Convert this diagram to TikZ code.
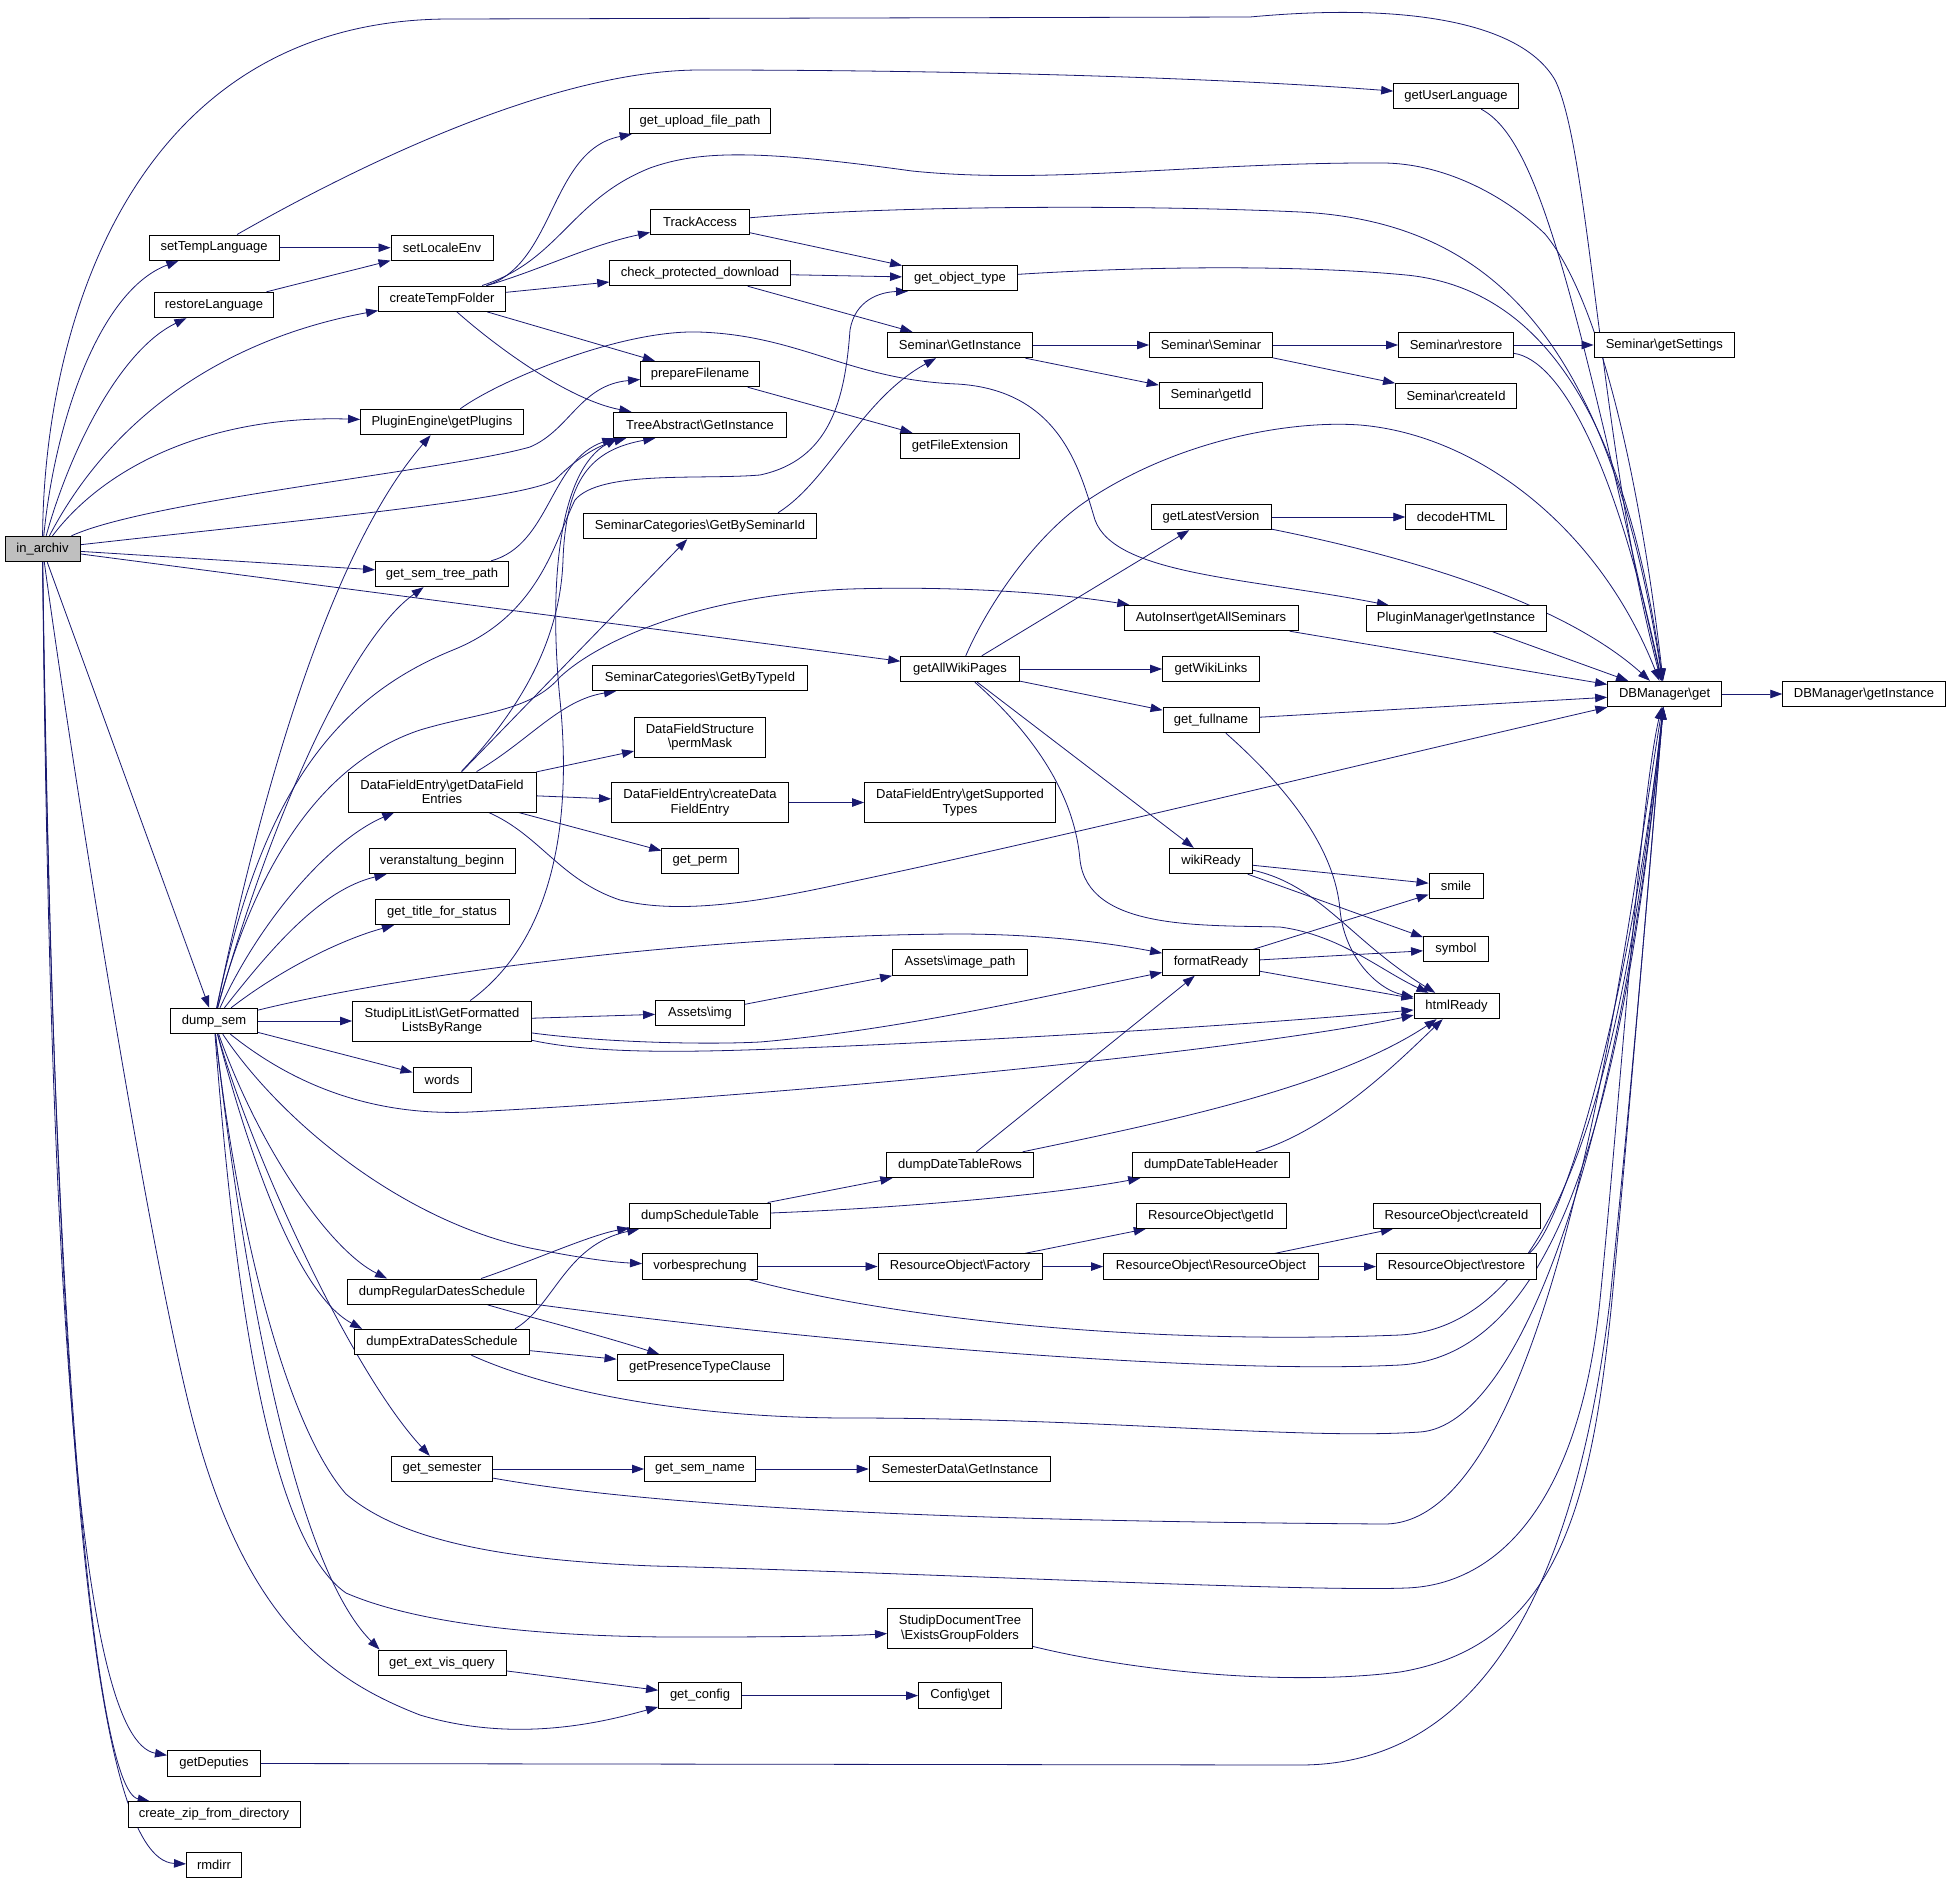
\documentclass[tikz,border=0pt]{standalone}
\usepackage{fontspec}
\newfontfamily\dfont{Liberation Sans}
\usetikzlibrary{arrows.meta}
\pgfdeclarelayer{bg}
\pgfdeclarelayer{paper}
\pgfsetlayers{paper,bg,main}
\definecolor{edgecol}{HTML}{191970}
\definecolor{rootfill}{HTML}{BFBFBF}
\begin{document}
\begin{tikzpicture}[x=1pt,y=-1pt,
 box/.style={draw=black,fill=white,line width=0.9pt,inner sep=0pt,minimum height=25.5pt,align=center,font={\dfont\fontsize{13}{14.5}\selectfont}},
 tall/.style={minimum height=40pt},
 e/.style={draw=edgecol,line width=0.8pt,-{Triangle[length=12pt,width=8.5pt]}}]
\begin{pgfonlayer}{paper}
\useasboundingbox[fill=white] (0,0) rectangle (1951,1884);
\end{pgfonlayer}
% rank 0/1
\node[box,minimum width=75pt,fill=rootfill] (inarchiv) at (42.5,549) {in\_archiv};
\node[box,minimum width=130pt] (settemp) at (214,247.7) {setTempLanguage};
\node[box,minimum width=119pt] (restore) at (214,305) {restoreLanguage};
\node[box,minimum width=87pt] (dumpsem) at (214,1021) {dump\_sem};
\node[box,minimum width=93pt] (getdep) at (214,1763.5) {getDeputies};
\node[box,minimum width=172pt] (zip) at (214,1814.4) {create\_zip\_from\_directory};
\node[box,minimum width=55pt] (rmdirr) at (214,1865) {rmdirr};
% rank 2
\node[box,minimum width=102pt] (setlocale) at (442,247.7) {setLocaleEnv};
\node[box,minimum width=127pt] (createtemp) at (442,298.7) {createTempFolder};
\node[box,minimum width=163pt] (plugins) at (442,422) {PluginEngine\textbackslash getPlugins};
\node[box,minimum width=133pt] (semtree) at (442,574) {get\_sem\_tree\_path};
\node[box,tall,minimum width=188pt] (dfe) at (442,792) {DataFieldEntry\textbackslash getDataField\\Entries};
\node[box,minimum width=146pt] (vbeginn) at (442,861) {veranstaltung\_beginn};
\node[box,minimum width=134pt] (title) at (442,912) {get\_title\_for\_status};
\node[box,tall,minimum width=179pt] (litlist) at (442,1021) {StudipLitList\textbackslash GetFormatted\\ListsByRange};
\node[box,minimum width=58pt] (words) at (442,1080) {words};
\node[box,minimum width=189pt] (regular) at (442,1291.7) {dumpRegularDatesSchedule};
\node[box,minimum width=175pt] (extra) at (442,1342) {dumpExtraDatesSchedule};
\node[box,minimum width=101.5pt] (semester) at (442,1469) {get\_semester};
\node[box,minimum width=128pt] (extvis) at (442,1662.7) {get\_ext\_vis\_query};
% rank 3
\node[box,minimum width=141.5pt] (upload) at (700,121) {get\_upload\_file\_path};
\node[box,minimum width=99pt] (track) at (700,222) {TrackAccess};
\node[box,minimum width=180.6pt] (checkprot) at (700,273) {check\_protected\_download};
\node[box,minimum width=119pt] (prepare) at (700,374) {prepareFilename};
\node[box,minimum width=172.6pt] (tree) at (700,425) {TreeAbstract\textbackslash GetInstance};
\node[box,minimum width=233pt] (catsem) at (700,526) {SeminarCategories\textbackslash GetBySeminarId};
\node[box,minimum width=215pt] (cattype) at (700,678) {SeminarCategories\textbackslash GetByTypeId};
\node[box,tall,minimum width=131pt] (permmask) at (700,737) {DataFieldStructure\\\textbackslash permMask};
\node[box,tall,minimum width=177pt] (createdfe) at (700,802.5) {DataFieldEntry\textbackslash createData\\FieldEntry};
\node[box,minimum width=76.5pt] (perm) at (700,861) {get\_perm};
\node[box,minimum width=89pt] (img) at (700,1013) {Assets\textbackslash img};
\node[box,minimum width=140.5pt] (schedule) at (700,1215.7) {dumpScheduleTable};
\node[box,minimum width=115pt] (vorb) at (700,1266.5) {vorbesprechung};
\node[box,minimum width=166pt] (presence) at (700,1367.4) {getPresenceTypeClause};
\node[box,minimum width=111pt] (semname) at (700,1469) {get\_sem\_name};
\node[box,minimum width=83pt] (config) at (700,1695.6) {get\_config};
% rank 4
\node[box,minimum width=115pt] (objtype) at (960,278) {get\_object\_type};
\node[box,minimum width=145.5pt] (seminst) at (960,345) {Seminar\textbackslash GetInstance};
\node[box,minimum width=118.6pt] (fileext) at (960,446) {getFileExtension};
\node[box,minimum width=118.6pt] (wiki) at (960,669) {getAllWikiPages};
\node[box,tall,minimum width=191pt] (supported) at (960,802.5) {DataFieldEntry\textbackslash getSupported\\Types};
\node[box,minimum width=135pt] (imgpath) at (960,962.6) {Assets\textbackslash image\_path};
\node[box,minimum width=147.4pt] (rows) at (960,1165) {dumpDateTableRows};
\node[box,minimum width=164pt] (factory) at (960,1266.5) {ResourceObject\textbackslash Factory};
\node[box,minimum width=181.7pt] (semdata) at (960,1469) {SemesterData\textbackslash GetInstance};
\node[box,tall,minimum width=145pt] (doctree) at (960,1628.7) {StudipDocumentTree\\\textbackslash ExistsGroupFolders};
\node[box,minimum width=83pt] (cfgget) at (960,1695.6) {Config\textbackslash get};
% rank 5
\node[box,minimum width=123pt] (seminar) at (1211,345) {Seminar\textbackslash Seminar};
\node[box,minimum width=103.5pt] (semid) at (1211,395.6) {Seminar\textbackslash getId};
\node[box,minimum width=120pt] (latest) at (1211,517) {getLatestVersion};
\node[box,minimum width=174pt] (autoins) at (1211,618) {AutoInsert\textbackslash getAllSeminars};
\node[box,minimum width=97pt] (wikilinks) at (1211,669) {getWikiLinks};
\node[box,minimum width=96pt] (fullname) at (1211,720) {get\_fullname};
\node[box,minimum width=83pt] (wikiready) at (1211,861) {wikiReady};
\node[box,minimum width=97pt] (format) at (1211,962.6) {formatReady};
\node[box,minimum width=156.7pt] (header) at (1211,1165) {dumpDateTableHeader};
\node[box,minimum width=150pt] (resid) at (1211,1215.7) {ResourceObject\textbackslash getId};
\node[box,minimum width=215pt] (resobj) at (1211,1266.6) {ResourceObject\textbackslash ResourceObject};
% rank 6
\node[box,minimum width=124.7pt] (userlang) at (1456,96) {getUserLanguage};
\node[box,minimum width=115pt] (semrestore) at (1456,345) {Seminar\textbackslash restore};
\node[box,minimum width=121pt] (semcreate) at (1456,395.8) {Seminar\textbackslash createId};
\node[box,minimum width=100.5pt] (decode) at (1456,517) {decodeHTML};
\node[box,minimum width=180pt] (pluginmgr) at (1456,618.5) {PluginManager\textbackslash getInstance};
\node[box,minimum width=54pt] (smile) at (1456,886) {smile};
\node[box,minimum width=65pt] (symbol) at (1456,949) {symbol};
\node[box,minimum width=85pt] (html) at (1456.5,1006) {htmlReady};
\node[box,minimum width=167pt] (rescreate) at (1456.5,1215.7) {ResourceObject\textbackslash createId};
\node[box,minimum width=160pt] (resrestore) at (1456.5,1266.6) {ResourceObject\textbackslash restore};
% rank 7/8
\node[box,minimum width=140.6pt] (settings) at (1664.3,345) {Seminar\textbackslash getSettings};
\node[box,minimum width=114pt] (dbget) at (1664.6,694) {DBManager\textbackslash get};
\node[box,minimum width=162.6pt] (dbinst) at (1864,694) {DBManager\textbackslash getInstance};

\begin{pgfonlayer}{bg}
% in_archiv
\draw[e] (inarchiv) .. controls (44,330) and (130,19) .. (450,19) -- (1250,17) .. controls (1400,3) and (1520,20) .. (1555,80) .. controls (1590,150) and (1600,450) .. (dbget);
\draw[e] (inarchiv) .. controls (55,420) and (100,290) .. (settemp);
\draw[e] (inarchiv) .. controls (70,450) and (120,350) .. (restore);
\draw[e] (inarchiv) .. controls (110,420) and (220,340) .. (createtemp);
\draw[e] (inarchiv) .. controls (110,460) and (220,415) .. (plugins);
\draw[e] (inarchiv) .. controls (150,500) and (450,470) .. (530,447) .. controls (570,430) and (580,385) .. (prepare);
\draw[e] (inarchiv) .. controls (300,520) and (520,500) .. (555,480) .. controls (580,455) and (600,445) .. ([xshift=13pt]tree.south west);
\draw[e] (inarchiv) -- (semtree);
\draw[e] (inarchiv) -- (wiki);
\draw[e] (inarchiv) -- (dumpsem);
\draw[e] (inarchiv) .. controls (70,750) and (140,1200) .. (187,1397) .. controls (240,1620) and (330,1680) .. (420,1715) .. controls (520,1745) and (610,1720) .. (config);
\draw[e] (inarchiv) .. controls (50,1300) and (80,1740) .. (getdep);
\draw[e] (inarchiv) .. controls (52,1350) and (95,1790) .. (zip);
\draw[e] (inarchiv) .. controls (55,1400) and (90,1860) .. (rmdirr);
% setTempLanguage etc.
\draw[e] (settemp) -- (setlocale);
\draw[e] (settemp) .. controls (350,170) and (550,70) .. (700,70) .. controls (1000,70) and (1250,80) .. (userlang);
\draw[e] (restore) -- (setlocale);
% createTempFolder
\draw[e] (createtemp) .. controls (555,265) and (550,150) .. (upload);
\draw[e] (createtemp) .. controls (560,260) and (570,200) .. (650,168) .. controls (700,150) and (760,150) .. (912,171) .. controls (1050,185) and (1200,162) .. (1384,163) .. controls (1450,164) and (1510,200) .. (1545,234) .. controls (1600,300) and (1640,480) .. (dbget);
\draw[e] (createtemp) .. controls (540,270) and (590,245) .. (track);
\draw[e] (createtemp) -- (checkprot);
\draw[e] (createtemp) -- (prepare);
\draw[e] (createtemp) .. controls (500,350) and (570,400) .. (tree);
% rank 3 top
\draw[e] (track) -- (objtype);
\draw[e] (track) .. controls (900,205) and (1150,205) .. (1300,212) .. controls (1500,222) and (1610,350) .. (dbget);
\draw[e] (checkprot) -- (objtype);
\draw[e] (checkprot) -- (seminst);
\draw[e] (objtype) .. controls (1150,266) and (1300,265) .. (1406,275) .. controls (1560,290) and (1630,450) .. (dbget);
\draw[e] (seminst) -- (seminar);
\draw[e] (seminst) -- (semid);
\draw[e] (seminar) -- (semrestore);
\draw[e] (seminar) -- (semcreate);
\draw[e] (semrestore) -- (settings);
\draw[e] (semrestore) .. controls (1560,360) and (1615,460) .. (dbget);
\draw[e] (userlang) .. controls (1540,140) and (1575,300) .. (dbget);
\draw[e] (prepare) -- (fileext);
\draw[e] (plugins) .. controls (500,380) and (620,330) .. (698,332) .. controls (800,335) and (850,380) .. (957,384) .. controls (1060,390) and (1080,470) .. (1095,520) .. controls (1115,575) and (1250,578) .. (pluginmgr);
\draw[e] (pluginmgr) -- (dbget);
\draw[e] (semtree) .. controls (550,545) and (550,460) .. ([xshift=1pt]tree.south west);
\draw[e] ([xshift=78pt]catsem.north) .. controls (830,480) and (860,400) .. (seminst);
% dump_sem
\draw[e] (dumpsem) .. controls (270,750) and (340,540) .. (plugins);
\draw[e] (dumpsem) .. controls (270,820) and (350,640) .. (semtree);
\draw[e] (dumpsem) .. controls (260,800) and (330,700) .. (453,650) .. controls (540,615) and (555,540) .. (575,500) .. controls (600,470) and (700,480) .. (760,475) .. controls (830,460) and (845,400) .. (850,330) .. controls (855,300) and (880,292) .. ([xshift=6pt]objtype.south west);
\draw[e] (dumpsem) .. controls (260,850) and (330,760) .. (420,730) .. controls (480,712) and (530,712) .. (560,677) .. controls (600,640) and (700,595) .. (850,589) .. controls (950,586) and (1050,592) .. (autoins);
\draw[e] (dumpsem) .. controls (260,920) and (330,840) .. (dfe);
\draw[e] (dumpsem) .. controls (270,950) and (320,890) .. (vbeginn);
\draw[e] (dumpsem) .. controls (280,970) and (340,940) .. (title);
\draw[e] (dumpsem) .. controls (400,975) and (700,935) .. (957,934) .. controls (1050,934) and (1120,945) .. (format);
\draw[e] (dumpsem) -- (litlist);
\draw[e] (dumpsem) -- (words);
\draw[e] (dumpsem) .. controls (300,1090) and (380,1116) .. (470,1112) .. controls (800,1095) and (1250,1050) .. (html);
\draw[e] (dumpsem) .. controls (280,1120) and (400,1220) .. (530,1248) .. controls (580,1258) and (610,1262) .. (vorb);
\draw[e] (dumpsem) .. controls (260,1150) and (330,1250) .. ([xshift=40pt]regular.north west);
\draw[e] (dumpsem) .. controls (240,1120) and (290,1290) .. ([xshift=8pt]extra.north west);
\draw[e] (dumpsem) .. controls (250,1150) and (350,1370) .. (semester);
\draw[e] (dumpsem) .. controls (240,1250) and (290,1430) .. (346,1494) .. controls (400,1540) and (500,1560) .. (654,1566) .. controls (900,1572) and (1300,1592) .. (1406,1588) .. controls (1500,1585) and (1580,1500) .. (1600,1300) .. controls (1620,1100) and (1640,800) .. (dbget);
\draw[e] (dumpsem) .. controls (235,1300) and (270,1540) .. (346,1593) .. controls (420,1625) and (550,1638) .. (700,1637) .. controls (780,1637) and (850,1636) .. (doctree);
\draw[e] (dumpsem) .. controls (240,1250) and (290,1560) .. ([xshift=2pt]extvis.north west);
% StudipLitList
\draw[e] (litlist) .. controls (540,950) and (575,850) .. (560,700) .. controls (548,580) and (560,470) .. ([xshift=4pt]tree.south west);
\draw[e] (litlist) -- (img);
\draw[e] (litlist) .. controls (600,1042) and (700,1045) .. (760,1042) .. controls (900,1030) and (1050,995) .. (format);
\draw[e] (litlist) .. controls (600,1055) and (700,1052) .. (800,1048) .. controls (1000,1040) and (1250,1025) .. (html);
% DataFieldEntry
\draw[e] (dfe) .. controls (510,720) and (560,650) .. (563,560) .. controls (566,480) and (590,450) .. ([xshift=42pt]tree.south west);
\draw[e] (dfe) -- (catsem);
\draw[e] (dfe) .. controls (530,740) and (560,700) .. (cattype);
\draw[e] (dfe) -- (permmask);
\draw[e] (dfe) -- (createdfe);
\draw[e] (dfe) -- (perm);
\draw[e] (dfe) .. controls (540,835) and (560,880) .. (620,900) .. controls (680,915) and (760,902) .. (850,882) .. controls (1050,840) and (1400,755) .. (dbget);
\draw[e] (createdfe) -- (supported);
\draw[e] (img) -- (imgpath);
% getAllWikiPages
\draw[e] (wiki) .. controls (990,600) and (1040,530) .. (1091,498) .. controls (1180,440) and (1290,420) .. (1360,425) .. controls (1480,435) and (1600,530) .. (dbget);
\draw[e] (wiki) -- (latest);
\draw[e] (wiki) -- (wikilinks);
\draw[e] (wiki) -- (fullname);
\draw[e] (wiki) -- (wikiready);
\draw[e] (wiki) .. controls (1040,740) and (1075,800) .. (1080,860) .. controls (1088,930) and (1200,925) .. (1280,927) .. controls (1340,935) and (1380,970) .. (html);
\draw[e] (latest) -- (decode);
\draw[e] (latest) .. controls (1400,555) and (1560,600) .. (dbget);
\draw[e] (autoins) -- (dbget);
\draw[e] (fullname) -- (dbget);
\draw[e] (fullname) .. controls (1290,790) and (1335,850) .. (1340,910) .. controls (1345,960) and (1380,990) .. (html);
\draw[e] (wikiready) -- (smile);
\draw[e] (wikiready) -- (symbol);
\draw[e] (wikiready) .. controls (1320,885) and (1350,940) .. (html);
\draw[e] (format) -- (smile);
\draw[e] (format) -- (symbol);
\draw[e] (format) -- (html);
% schedule
\draw[e] (schedule) -- (rows);
\draw[e] (schedule) .. controls (900,1208) and (1050,1195) .. (header);
\draw[e] (rows) -- (format);
\draw[e] (rows) .. controls (1150,1125) and (1330,1090) .. (html);
\draw[e] (header) .. controls (1330,1130) and (1400,1060) .. (html);
\draw[e] (regular) .. controls (530,1262) and (590,1235) .. (schedule);
\draw[e] ([xshift=-15pt]extra.north east) .. controls (555,1305) and (565,1245) .. (schedule);
\draw[e] (regular) .. controls (540,1320) and (600,1335) .. (presence);
\draw[e] (regular) .. controls (800,1340) and (1200,1375) .. (1400,1365) .. controls (1560,1355) and (1625,1100) .. (dbget);
\draw[e] (extra) -- (presence);
\draw[e] (extra) .. controls (560,1395) and (700,1418) .. (850,1418) .. controls (1100,1418) and (1300,1440) .. (1420,1432) .. controls (1520,1425) and (1620,1150) .. (dbget);
% vorbesprechung
\draw[e] (vorb) -- (factory);
\draw[e] (vorb) .. controls (900,1320) and (1150,1345) .. (1400,1335) .. controls (1580,1325) and (1630,1000) .. (dbget);
\draw[e] (factory) -- (resid);
\draw[e] (factory) -- (resobj);
\draw[e] (resobj) -- (rescreate);
\draw[e] (resobj) -- (resrestore);
\draw[e] ([xshift=-8pt]resrestore.north east) .. controls (1565,1225) and (1630,1000) .. (dbget);
% semester
\draw[e] (semester) -- (semname);
\draw[e] (semester) .. controls (700,1515) and (1100,1522) .. (1384,1524) .. controls (1560,1525) and (1630,900) .. (dbget);
\draw[e] (semname) -- (semdata);
\draw[e] (extvis) -- (config);
\draw[e] (config) -- (cfgget);
\draw[e] (getdep.east) -- (1300,1765) .. controls (1500,1765) and (1580,1550) .. (1610,1300) .. controls (1640,1000) and (1655,800) .. (dbget);
\draw[e] (doctree) .. controls (1150,1675) and (1300,1685) .. (1400,1672) .. controls (1560,1645) and (1592,1500) .. (1612,1300) .. controls (1635,1050) and (1655,800) .. (dbget);
\draw[e] (dbget) -- (dbinst);
\end{pgfonlayer}
\end{tikzpicture}
\end{document}
